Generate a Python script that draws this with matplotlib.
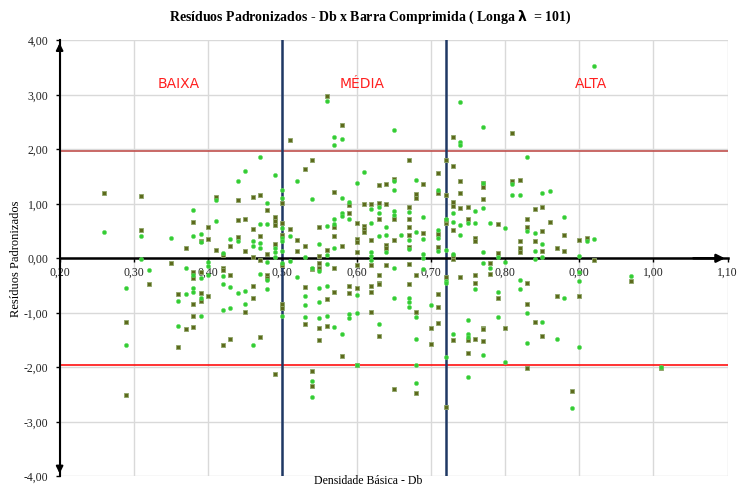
import matplotlib
matplotlib.use("Agg")
import matplotlib.pyplot as plt
from matplotlib.ticker import FuncFormatter, MultipleLocator

# -------------------------
# Data (Db, standardized residual)
# -------------------------
sq_x = [0.56, 0.58, 0.51, 0.73, 0.81, 0.54, 0.53, 0.67, 0.72, 0.71, 0.73, 0.65, 0.69, 0.64, 0.63, 0.74, 0.77, 0.81, 0.82,
        0.26, 0.31, 0.31, 0.32, 0.29, 0.35, 0.37, 0.36, 0.37, 0.38, 0.38, 0.38, 0.38, 0.38, 0.38, 0.39, 0.39, 0.39, 0.39,
        0.40, 0.40, 0.40, 0.41, 0.41, 0.42, 0.42, 0.42, 0.43, 0.43, 0.44, 0.44, 0.44, 0.45, 0.45, 0.45, 0.46, 0.46, 0.46,
        0.46, 0.46, 0.47, 0.47, 0.47, 0.48, 0.48, 0.48, 0.48, 0.49, 0.49, 0.49, 0.49, 0.50, 0.50, 0.50, 0.50, 0.50, 0.50,
        0.57, 0.59, 0.61, 0.62, 0.63, 0.64, 0.65, 0.67, 0.67, 0.68, 0.68, 0.71, 0.72, 0.71, 0.71, 0.72, 0.72, 0.60, 0.60,
        0.60, 0.60, 0.59, 0.61, 0.61, 0.61, 0.62, 0.63, 0.64, 0.64, 0.65, 0.67, 0.67, 0.67, 0.69, 0.57, 0.57, 0.55, 0.55,
        0.56, 0.58, 0.51, 0.52, 0.52, 0.53, 0.54, 0.55, 0.55, 0.57, 0.60, 0.62, 0.64, 0.67, 0.68, 0.63, 0.53, 0.56, 0.57,
        0.59, 0.59, 0.60, 0.62, 0.62, 0.63, 0.63, 0.62, 0.68, 0.67, 0.71, 0.71, 0.72, 0.73, 0.73, 0.74, 0.76, 0.76, 0.78,
        0.78, 0.79, 0.79, 0.77, 0.70, 0.71, 0.53, 0.55, 0.56, 0.73, 0.73, 0.74, 0.74, 0.75, 0.75, 0.76, 0.76, 0.77, 0.77,
        0.79, 0.73,
        0.84, 0.85, 0.83, 0.83, 0.86, 0.85, 0.88, 0.82, 0.84, 0.90, 0.91, 0.82, 0.82, 0.85, 0.87, 0.88, 0.92, 0.90, 0.83,
        0.87, 0.83, 0.84, 0.80, 0.97,
        0.36, 0.42, 0.43, 0.47, 0.49, 0.29, 0.63, 0.55, 0.58, 0.70, 0.54, 0.54, 0.60, 0.65, 0.68, 0.72, 0.73, 0.75, 0.76,
        0.77, 0.77, 0.75, 0.85, 0.83, 0.89, 1.01]
sq_y = [2.98, 2.44, 2.17, 2.22, 2.30, 1.81, 1.63, 1.81, 1.81, 1.57, 1.69, 1.46, 1.36, 1.36, 1.34, 1.42, 1.38, 1.41, 1.44,
        1.20, 1.14, 0.52, -0.47, -1.16, -0.08, 0.19, -0.66, -1.29, 0.67, -0.26, -0.37, -0.83, -1.05, -1.26, 0.32, -0.26,
        -0.64, -0.78, 0.58, 0.36, -0.69, 1.12, 0.15, 0.06, -0.18, -0.21, 0.23, -0.31, 1.07, 0.70, 0.39, 0.73, 0.14, -0.98,
        1.12, 0.53, 0.02, -0.51, -0.72, 1.16, 0.41, -0.04, 0.88, 0.07, -0.31, -0.37, 0.76, 0.69, 0.62, 0.26, 1.01, 0.64,
        0.43, -0.12, -0.84, -0.92,
        1.22, 0.98, 1.00, 1.00, 1.02, 1.00, 0.72, 0.94, 0.73, 1.18, 1.11, 1.19, 1.16, 0.45, 0.21, 0.64, 0.70, 0.64, 0.35,
        0.29, 0.12, 0.83, 0.59, 0.53, 0.49, 0.34, 0.73, 0.24, 0.18, 0.34, 0.58, 0.43, 0.21, 0.46, 0.58, 0.41, 0.58, 0.04,
        0.15, 0.23, 0.53, 0.34, 0.13, 0.23, -0.19, -0.09, -0.17, -0.18, -0.12, -0.12, -0.13, -0.10, -0.30, -0.30, -0.52,
        -0.74, -0.62, -0.51, -0.64, -0.54, -0.50, -0.62, -0.45, -0.48, -0.99, -0.98, -0.48, -0.66, -0.89, -0.34, -0.02,
        0.04, -0.35, -0.30, -0.46, -0.08, -0.29, 0.10, -0.72, -1.27, -1.28, -1.18, -1.21, -1.27, -1.24, 1.04, 0.96, 1.20,
        0.92, 0.94, 0.72, 0.37, 0.31, 1.08, 1.31, 0.63, 0.52,
        0.90, 0.94, 0.73, 0.58, 0.67, 0.50, 0.43, 0.32, 0.31, 0.34, 0.38, 0.18, 0.11, 0.13, 0.18, 0.14, -0.04, -0.69,
        -0.45, -0.70, -0.83, -1.16, -1.28, -0.42,
        -1.62, -1.59, -1.49, -1.45, -2.13, -2.50, -1.42, -1.50, -1.79, -1.58, -2.06, -2.35, -1.95, -2.39, -2.47, -2.72,
        -1.50, -1.50, -1.49, -1.30, -1.52, -1.74, -1.43, -2.01, -2.43, -2.01]

ci_x = [0.47, 0.45, 0.44, 0.49, 0.56, 0.57, 0.58, 0.57, 0.65, 0.74, 0.77, 0.74, 0.74, 0.52, 0.61, 0.60, 0.65, 0.68, 0.92,
        0.83, 0.81,
        0.26, 0.31, 0.31, 0.32, 0.29, 0.35, 0.37, 0.36, 0.37, 0.36, 0.38, 0.38, 0.38, 0.38, 0.38, 0.39, 0.39, 0.39, 0.39,
        0.39, 0.40, 0.40, 0.40, 0.41, 0.41, 0.42, 0.42, 0.42, 0.42, 0.43, 0.43, 0.43, 0.44, 0.44, 0.45, 0.45, 0.46, 0.46,
        0.47, 0.47, 0.47, 0.47, 0.48, 0.48, 0.48, 0.48, 0.48, 0.49, 0.49, 0.49, 0.50, 0.50, 0.50, 0.50, 0.50, 0.50, 0.50,
        0.50,
        0.65, 0.58, 0.54, 0.59, 0.62, 0.63, 0.65, 0.65, 0.67, 0.69, 0.71, 0.71, 0.71, 0.71, 0.72, 0.72, 0.58, 0.58, 0.59,
        0.62, 0.62, 0.62, 0.62, 0.63, 0.63, 0.64, 0.64, 0.64, 0.66, 0.67, 0.67, 0.68, 0.69, 0.69, 0.69, 0.57, 0.57, 0.56,
        0.55, 0.56, 0.57, 0.51, 0.53, 0.51, 0.52, 0.54, 0.55, 0.56, 0.65, 0.69, 0.53, 0.53, 0.56, 0.55, 0.55, 0.59, 0.59,
        0.60, 0.60, 0.65, 0.67, 0.67, 0.67, 0.68, 0.70, 0.72, 0.72, 0.73, 0.76, 0.77, 0.78, 0.79, 0.79, 0.79, 0.80, 0.75,
        0.63, 0.55, 0.56, 0.57, 0.73, 0.74, 0.73, 0.74, 0.75, 0.76, 0.76, 0.77, 0.77, 0.77, 0.78, 0.81, 0.80,
        0.82, 0.85, 0.86, 0.88, 0.83, 0.84, 0.85, 0.91, 0.92, 0.84, 0.90, 0.85, 0.84, 0.90, 0.90, 0.82, 0.82, 0.88, 0.83,
        0.85, 0.97,
        0.29, 0.46, 0.58, 0.68, 0.54, 0.54, 0.60, 0.68, 0.68, 0.72, 0.73, 0.75, 0.75, 0.77, 0.75, 0.80, 0.83, 0.87, 0.90,
        0.89, 1.01, 0.53]
ci_y = [1.85, 1.61, 1.42, 1.53, 2.89, 2.22, 2.19, 2.07, 2.35, 2.86, 2.41, 2.13, 2.07, 1.41, 1.58, 1.39, 1.41, 1.44, 3.52,
        1.85, 1.37,
        0.48, 0.40, -0.01, -0.21, -0.55, 0.38, -0.18, -0.78, -0.66, -1.24, 0.89, 0.41, -0.31, -0.54, -0.62, 0.45, 0.29,
        -0.36, -0.73, -1.06, -0.06, -0.15, -0.30, 1.07, 0.68, 0.09, -0.32, -0.47, -0.94, 0.35, -0.53, -0.91, 0.31, -0.64,
        -0.60, -0.84, 0.31, 0.23, 0.63, 0.28, 0.18, -0.29, 1.01, 0.63, -0.06, -0.40, -0.57, 0.18, 0.11, 0.02, 1.10, 1.25,
        0.55, 0.37, 0.31, 0.14, -0.08, -1.06,
        1.25, 1.11, 1.09, 1.03, 0.90, 0.95, 0.87, 0.79, 0.85, 0.76, 1.25, 0.52, 0.37, 0.14, 0.72, 0.15, 0.84, 0.78, 0.72,
        0.64, 0.12, 0.04, -0.04, 0.83, 0.40, 0.58, 0.43, 0.11, 0.43, 0.34, 0.17, 0.49, 0.36, 0.07, 0.01, 0.72, 0.63, 0.59,
        0.26, 0.06, 0.18, 0.41, 0.02, -0.05, -0.34, -0.17, -0.23, -0.10, -0.17, -0.20, -0.69, -0.86, -0.50, -0.54, -0.81,
        -1.03, -1.09, -0.67, -1.00, -0.72, -0.73, -0.81, -0.89, -1.07, -0.86, -0.41, -0.45, 0.07, -0.56, -0.08, -0.17,
        0.03, -0.61, -1.07, 0.55, -1.14, -1.20, -1.09, -1.06, -1.26, 0.84, 0.61, 0.67, 0.43, 0.65, 0.87, 0.64, 1.38, 0.92,
        0.12, 0.64, 1.16, -0.06,
        1.17, 1.20, 1.24, 0.76, 0.50, 0.46, 0.26, 0.32, 0.36, 0.14, 0.05, 0.02, -0.01, -0.25, -0.42, -0.40, -0.57, -0.73,
        -1.01, -1.16, -0.32,
        -1.59, -1.59, -1.39, -1.49, -2.25, -2.54, -1.95, -1.96, -2.28, -1.81, -1.38, -1.38, -1.45, -1.77, -2.18, -1.91,
        -1.55, -1.49, -1.62, -2.75, -1.99, -1.08]

class_labels = ["BAIXA", "MÉDIA", "ALTA"]
class_label_x = [0.36, 0.607, 0.916]
class_cuts = [0.50, 0.72]
z_limit = 1.96

# -------------------------
# Plot
# -------------------------
fig = plt.figure(figsize=(7.37, 4.88), dpi=100)
ax = fig.add_axes([0.0809, 0.024, 0.9065, 0.8934])
ax.set_xlim(0.2, 1.1)
ax.set_ylim(-4, 4)

ax.xaxis.set_major_locator(MultipleLocator(0.1))
ax.yaxis.set_major_locator(MultipleLocator(1.0))
ax.xaxis.set_major_formatter(FuncFormatter(lambda v, p: f"{v:.2f}".replace(".", ",")))
ax.yaxis.set_major_formatter(FuncFormatter(lambda v, p: f"{v:.2f}".replace(".", ",")))
ax.grid(True, color="#d9d9d9", lw=1.0, zorder=0)
ax.set_axisbelow(True)

for s in ["top", "right"]:
    ax.spines[s].set_visible(False)
ax.spines["left"].set_position(("data", 0.2))
ax.spines["bottom"].set_position(("data", 0.0))
ax.spines["left"].set_linewidth(1.5)
ax.spines["bottom"].set_linewidth(1.8)
ax.tick_params(axis="both", direction="out", length=3, width=1, labelsize=8.5, colors="black")
ax.tick_params(axis="y", pad=5)
ax.tick_params(axis="x", pad=3)
for lbl in ax.get_xticklabels() + ax.get_yticklabels():
    lbl.set_fontfamily("Liberation Serif")
    lbl.set_color("#222222")
# last x label sits right at the figure edge; nudge it inwards
ax.get_xticklabels()[-1].set_horizontalalignment("right")
ax.get_xticklabels()[-1].set_x(1.1)

# axis arrows
ax.annotate("", xy=(1.1, 0), xytext=(1.05, 0),
            arrowprops=dict(arrowstyle="-|>", color="black", lw=1.8, mutation_scale=12))
ax.annotate("", xy=(0.2, 4.0), xytext=(0.2, 3.8),
            arrowprops=dict(arrowstyle="-|>", color="black", lw=1.5, mutation_scale=10))
ax.annotate("", xy=(0.2, -4.0), xytext=(0.2, -3.8),
            arrowprops=dict(arrowstyle="-|>", color="black", lw=1.5, mutation_scale=10))

# limits and class cuts
ax.axhline(z_limit, color="#c0504d", lw=1.2, zorder=2)
ax.axhline(-z_limit, color="#ff1010", lw=1.2, zorder=2)
for xv in class_cuts:
    ax.axvline(xv, color="#1f3864", lw=1.8, zorder=2)

ax.scatter(sq_x, sq_y, marker="s", s=11, facecolor="#5d6a1c", edgecolor="#8ea66a", linewidths=0.6, zorder=3)
ax.scatter(ci_x, ci_y, marker="o", s=9, facecolor="#33cc33", edgecolor="#66dd66", linewidths=0.4, zorder=4)

for name, xv in zip(class_labels, class_label_x):
    ax.text(xv, 3.2, name, color="#ff2020", fontsize=10, family="DejaVu Sans",
            ha="center", va="center")

fig.text(0.502, 0.964, "Resíduos Padronizados - Db x Barra Comprimida ( Longa $\\boldsymbol{\\lambda}$  = 101)",
         ha="center", va="center", fontsize=10, fontweight="bold", family="Liberation Serif")
fig.text(0.022, 0.47, "Resíduos Padronizados", rotation=90, ha="center", va="center",
         fontsize=9, family="Liberation Serif")
fig.text(0.5, 0.014, "Densidade Básica - Db", ha="center", va="center",
         fontsize=8.5, family="Liberation Serif")

fig.savefig("out.png", dpi=100)
